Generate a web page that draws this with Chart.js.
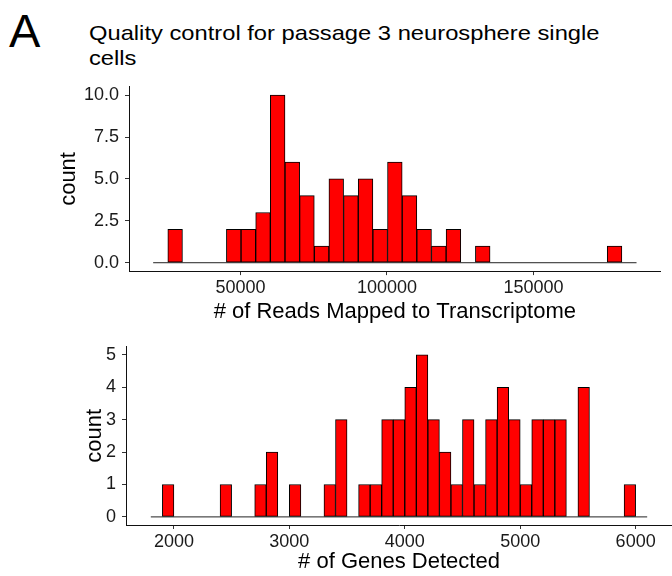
<!DOCTYPE html>
<html lang="en">
<head>
    <meta charset="UTF-8">
    <title>Quality control for passage 3 neurosphere single cells</title>
    <script src="https://cdn.jsdelivr.net/npm/chart.js"></script>
    <style>
        body,
        html {
            margin: 0;
            padding: 0;
            background: #fff;
            font-family: "Liberation Sans", Arial, Helvetica, sans-serif;
        }

        .page {
            position: relative;
            width: 672px;
            height: 576px;
            overflow: hidden;
        }

        .panel-letter {
            position: absolute;
            left: 9px;
            top: 7px;
            font-size: 47px;
            line-height: 47px;
            color: #000;
        }

        .title {
            position: absolute;
            left: 89px;
            top: 20px;
            font-size: 21px;
            line-height: 25px;
            color: #000;
            white-space: nowrap;
            transform: scaleX(1.13); /* the reference text is a bit wider than Liberation Sans */
            transform-origin: left top;
        }

        #readsChart {
            position: absolute;
            left: 0;
            top: 70px;
        }

        #genesChart {
            position: absolute;
            left: 0;
            top: 330px;
        }
    </style>
</head>

<body>
    <div class="page">
        <div class="panel-letter">A</div>
        <div class="title">Quality control for passage 3 neurosphere single<br>cells</div>
        <canvas id="readsChart" width="672" height="260"></canvas>
        <canvas id="genesChart" width="672" height="246"></canvas>
    </div>

    <script>
        // histogram 1: reads mapped to transcriptome (33 bins)
        const readsBinStart = 20200
        const readsBinWidth = 5000
        const readsCounts = [0, 2, 0, 0, 0, 2, 2, 3, 10, 6, 4, 1, 5, 4, 5, 2, 6, 4, 2, 1, 2, 0, 1, 0, 0, 0, 0, 0, 0, 0, 0, 1, 0]
        const readsTicksX = [50000, 100000, 150000]
        const readsTicksY = [0, 2.5, 5, 7.5, 10]

        // histogram 2: genes detected (43 bins)
        const genesBinStart = 1800
        const genesBinWidth = 100
        const genesCounts = [0, 1, 0, 0, 0, 0, 1, 0, 0, 1, 2, 0, 1, 0, 0, 1, 3, 0, 1, 1, 3, 3, 4, 5, 3, 2, 1, 3, 1, 3, 4, 3, 1, 3, 3, 3, 0, 4, 0, 0, 0, 1, 0]
        const genesTicksX = [2000, 3000, 4000, 5000, 6000]
        const genesTicksY = [0, 1, 2, 3, 4, 5]

        const fontFamily = '"Liberation Sans", Arial, Helvetica, sans-serif'

        function makeHistogram(canvasId, cfg) {
            const n = cfg.counts.length
            const lo = cfg.binStart
            const hi = cfg.binStart + n * cfg.binWidth
            const xPad = (hi - lo) * 0.05
            const yMax = Math.max(...cfg.counts)
            const yPad = yMax * 0.05

            const bars = cfg.counts.map((c, i) => ({ x: lo + cfg.binWidth * (i + 0.5), y: c }))

            return new Chart(document.getElementById(canvasId), {
                type: 'bar',
                data: {
                    datasets: [{
                        data: bars,
                        backgroundColor: '#ff0000',
                        borderColor: '#000',
                        borderWidth: 1,
                        borderSkipped: false,
                        barPercentage: 1,
                        categoryPercentage: 1,
                        order: 1
                    }, {
                        // empty bins show as a line along zero, like ggplot
                        type: 'line',
                        data: [{ x: lo, y: 0 }, { x: hi, y: 0 }],
                        borderColor: '#222',
                        borderWidth: 1,
                        pointRadius: 0,
                        order: 2
                    }]
                },
                options: {
                    responsive: false,
                    animation: false,
                    events: [],
                    layout: {
                        padding: { top: cfg.padTop, right: cfg.padRight, left: 0, bottom: 0 }
                    },
                    plugins: {
                        legend: { display: false },
                        tooltip: { enabled: false }
                    },
                    scales: {
                        x: {
                            type: 'linear',
                            min: lo - xPad,
                            max: hi + xPad,
                            offset: false,
                            afterBuildTicks: (scale) => {
                                scale.ticks = cfg.ticksX.map(v => ({ value: v }))
                            },
                            afterFit: (scale) => {
                                scale.height = cfg.xHeight
                            },
                            grid: {
                                offset: false,
                                drawOnChartArea: false,
                                drawTicks: true,
                                tickLength: 4,
                                tickColor: '#333'
                            },
                            border: { display: true, color: '#111', width: 1 },
                            ticks: {
                                autoSkip: false,
                                maxRotation: 0,
                                padding: 2,
                                color: '#1a1a1a',
                                font: { family: fontFamily, size: 18 },
                                callback: (v) => String(v)
                            },
                            title: {
                                display: true,
                                text: cfg.xTitle,
                                color: '#000',
                                font: { family: fontFamily, size: 22 },
                                padding: { top: 0, bottom: cfg.xTitlePad }
                            }
                        },
                        y: {
                            min: -yPad,
                            max: yMax + yPad,
                            afterBuildTicks: (scale) => {
                                scale.ticks = cfg.ticksY.map(v => ({ value: v }))
                            },
                            afterFit: (scale) => {
                                scale.width = cfg.yWidth
                            },
                            grid: {
                                drawOnChartArea: false,
                                drawTicks: true,
                                tickLength: 4,
                                tickColor: '#333'
                            },
                            border: { display: true, color: '#111', width: 1 },
                            ticks: {
                                autoSkip: false,
                                padding: 6,
                                color: '#1a1a1a',
                                font: { family: fontFamily, size: 18 },
                                callback: (v) => cfg.yDecimals ? v.toFixed(cfg.yDecimals) : String(v)
                            },
                            title: {
                                display: true,
                                text: 'count',
                                color: '#000',
                                font: { family: fontFamily, size: 22 },
                                padding: { top: cfg.yTitlePad, bottom: 0 }
                            }
                        }
                    }
                }
            })
        }

        makeHistogram('readsChart', {
            binStart: readsBinStart,
            binWidth: readsBinWidth,
            counts: readsCounts,
            ticksX: readsTicksX,
            ticksY: readsTicksY,
            yDecimals: 1,
            xTitle: '# of Reads Mapped to Transcriptome',
            padTop: 16.3,
            padRight: 11.3,
            yWidth: 129,
            xHeight: 58.9,
            xTitlePad: 5.2,
            yTitlePad: 55.8
        })

        makeHistogram('genesChart', {
            binStart: genesBinStart,
            binWidth: genesBinWidth,
            counts: genesCounts,
            ticksX: genesTicksX,
            ticksY: genesTicksY,
            yDecimals: 0,
            xTitle: '# of Genes Detected',
            padTop: 13.8,
            padRight: 0,
            yWidth: 126,
            xHeight: 51,
            xTitlePad: 1.1,
            yTitlePad: 81.8
        })
    </script>
</body>
</html>
